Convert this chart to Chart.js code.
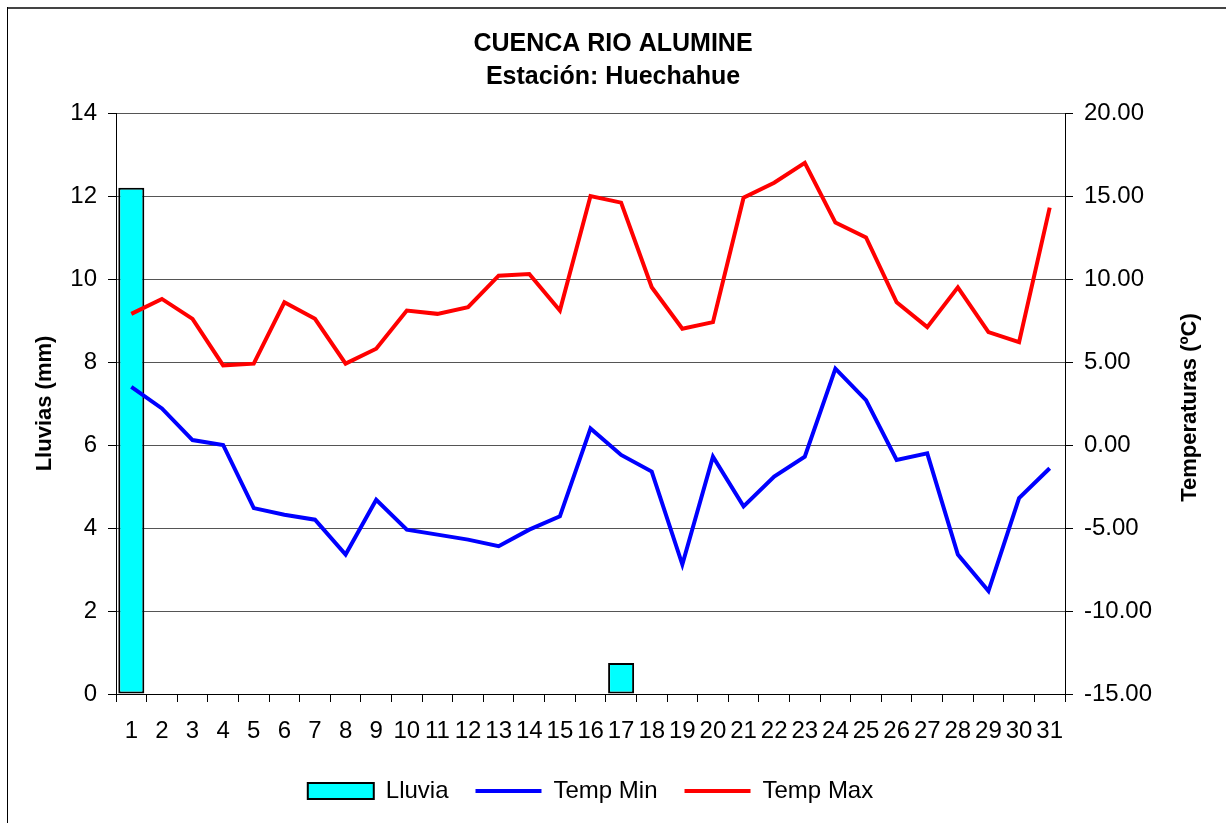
<!DOCTYPE html>
<html>
<head>
<meta charset="utf-8">
<title>Cuenca Rio Alumine - Huechahue</title>
<script src="https://cdn.jsdelivr.net/npm/chart.js@4.4.1/dist/chart.umd.min.js"></script>
<style>
  html, body { margin: 0; padding: 0; background: #fff; }
  #chartCanvas { display: block; }
</style>
</head>
<body>
<canvas id="chartCanvas" width="1226" height="823"></canvas>
<script>
// --- Data ---
const dias = ['1', '2', '3', '4', '5', '6', '7', '8', '9', '10', '11', '12', '13', '14', '15', '16',
    '17', '18', '19', '20', '21', '22', '23', '24', '25', '26', '27', '28', '29', '30', '31'];

const lluvia = [12.2, null, null, null, null, null, null, null, null, null, null, null, null, null, null, null,
    0.75, null, null, null, null, null, null, null, null, null, null, null, null, null, null];

const tempMin = [3.5, 2.2, 0.3, 0.0, -3.8, -4.2, -4.5, -6.6, -3.3, -5.1, -5.4, -5.7, -6.1, -5.1, -4.3, 1.0,
    -0.6, -1.6, -7.2, -0.7, -3.7, -1.9, -0.7, 4.6, 2.7, -0.9, -0.5, -6.6, -8.8, -3.2, -1.4];

const tempMax = [7.9, 8.8, 7.6, 4.8, 4.9, 8.6, 7.6, 4.9, 5.8, 8.1, 7.9, 8.3, 10.2, 10.3, 8.1, 15.0,
    14.6, 9.5, 7.0, 7.4, 14.9, 15.8, 17.0, 13.4, 12.5, 8.6, 7.1, 9.5, 6.8, 6.2, 14.3];

const titulo = ['CUENCA RIO ALUMINE', 'Estación: Huechahue'];
const tituloTemp = 'Temperaturas (ºC)';

// --- Setup ---
const canvas = document.getElementById('chartCanvas');
const FONT = "'Liberation Sans', Arial, sans-serif";

Chart.defaults.color = '#000';
Chart.defaults.font.family = FONT;

// white background and the outer frame
const framePlugin = {
    id: 'frame',
    beforeDraw(chart) {
        const ctx = chart.ctx;
        ctx.save();
        ctx.fillStyle = '#fff';
        ctx.fillRect(0, 0, chart.width, chart.height);
        ctx.strokeStyle = '#444';
        ctx.lineWidth = 2;
        ctx.beginPath();
        ctx.moveTo(7, 8);
        ctx.lineTo(chart.width, 8);
        ctx.stroke();
        ctx.strokeStyle = '#000';
        ctx.lineWidth = 1;
        ctx.beginPath();
        ctx.moveTo(7.5, 7);
        ctx.lineTo(7.5, chart.height);
        ctx.stroke();
        ctx.restore();
    }
};

// right axis title reads bottom-to-top like the left one
const rightTitlePlugin = {
    id: 'rightTitle',
    afterDraw(chart) {
        const area = chart.chartArea;
        const ctx = chart.ctx;
        ctx.save();
        ctx.translate(1190, (area.top + area.bottom) / 2 + 4);
        ctx.rotate(-Math.PI / 2);
        ctx.font = 'bold 22px ' + FONT;
        ctx.fillStyle = '#000';
        ctx.textAlign = 'center';
        ctx.textBaseline = 'middle';
        ctx.fillText(tituloTemp, 0, 0);
        ctx.restore();
    }
};

function buildChartConfig() {
    return {
        type: 'bar',
        data: {
            labels: dias,
            datasets: [
                {
                    type: 'bar',
                    label: 'Lluvia',
                    data: lluvia,
                    yAxisID: 'y',
                    backgroundColor: '#00FFFF',
                    borderColor: '#000',
                    borderWidth: 2,
                    borderSkipped: false,
                    barPercentage: 0.85,
                    categoryPercentage: 1.0,
                    order: 2
                },
                {
                    type: 'line',
                    label: 'Temp Min',
                    data: tempMin,
                    yAxisID: 'y1',
                    borderColor: '#0000FF',
                    backgroundColor: '#0000FF',
                    borderWidth: 4,
                    pointRadius: 0,
                    tension: 0,
                    order: 1
                },
                {
                    type: 'line',
                    label: 'Temp Max',
                    data: tempMax,
                    yAxisID: 'y1',
                    borderColor: '#FF0000',
                    backgroundColor: '#FF0000',
                    borderWidth: 4,
                    pointRadius: 0,
                    tension: 0,
                    order: 1
                }
            ]
        },
        options: {
            responsive: false,
            animation: false,
            layout: { padding: { left: 0, right: 0, top: 0, bottom: 10 } },
            plugins: {
                tooltip: { enabled: false },
                title: {
                    display: true,
                    text: titulo,
                    color: '#000',
                    font: { size: 25, weight: 'bold', lineHeight: 1.32 },
                    padding: { top: 27.5, bottom: 19.5 }
                },
                legend: {
                    position: 'bottom',
                    fullSize: false,
                    labels: {
                        font: { size: 24 },
                        color: '#000',
                        usePointStyle: true,
                        pointStyleWidth: 66,
                        boxHeight: 16,
                        padding: 27,
                        sort: (a, b) => a.datasetIndex - b.datasetIndex,
                        generateLabels: chart => Chart.defaults.plugins.legend.labels.generateLabels(chart).map(item => {
                            const ds = chart.data.datasets[item.datasetIndex];
                            const isLine = ds.type === 'line';
                            item.pointStyle = isLine ? 'line' : 'rect';
                            item.lineWidth = isLine ? 4 : 2;
                            item.strokeStyle = ds.borderColor;
                            item.fillStyle = ds.backgroundColor;
                            return item;
                        })
                    }
                }
            },
            scales: {
                x: {
                    offset: true,
                    grid: { offset: true, drawOnChartArea: false, drawTicks: true, tickLength: 8, tickColor: '#000' },
                    border: { display: true, color: '#000', width: 1 },
                    ticks: { autoSkip: false, maxRotation: 0, minRotation: 0, padding: 15, font: { size: 24 }, color: '#000' },
                    afterFit: scale => { scale.height = 58; }
                },
                y: {
                    position: 'left',
                    min: 0,
                    max: 14,
                    ticks: { stepSize: 2, padding: 11, font: { size: 24 }, color: '#000' },
                    grid: { color: '#555', lineWidth: 1, tickLength: 8, tickColor: '#000' },
                    border: { display: true, color: '#000', width: 1 },
                    title: {
                        display: true,
                        text: 'Lluvias (mm)',
                        color: '#000',
                        font: { size: 22, weight: 'bold' },
                        padding: { top: 32, bottom: 0 }
                    },
                    afterFit: scale => { scale.width = 116; }
                },
                y1: {
                    position: 'right',
                    min: -15,
                    max: 20,
                    ticks: {
                        stepSize: 5,
                        padding: 11,
                        font: { size: 24 },
                        color: '#000',
                        callback: v => Number(v).toFixed(2)
                    },
                    grid: { drawOnChartArea: false, tickLength: 8, tickColor: '#000' },
                    border: { display: true, color: '#000', width: 1 },
                    afterFit: scale => { scale.width = 161; }
                }
            }
        },
        plugins: [framePlugin, rightTitlePlugin]
    };
}

let currentChart = null;

function initChart() {
    if (typeof Chart === 'undefined') {
        console.warn('Chart.js not found - include Chart.js to render charts.');
        return null;
    }
    currentChart = new Chart(canvas, buildChartConfig());
    return currentChart;
}

initChart();
</script>
</body>
</html>
